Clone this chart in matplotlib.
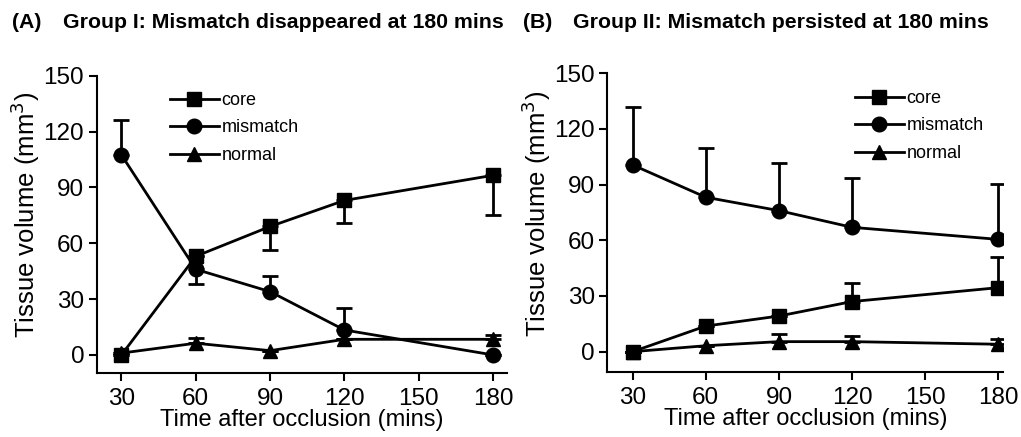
import matplotlib
matplotlib.use("Agg")
import matplotlib.pyplot as plt
import numpy as np

plt.rcParams['font.family'] = ['Liberation Sans', 'DejaVu Sans']

times = [30, 60, 90, 120, 180]
xticks = [30, 60, 90, 120, 150, 180]
yticks = [0, 30, 60, 90, 120, 150]

# Group I
a_core = [0, 53, 69, 83, 96.5]
a_core_lo = [0, 0, 12.5, 12.2, 21.2]
a_core_hi = [0, 0, 0, 0, 0]
a_mis = [107.4, 46, 34, 13.4, 0]
a_mis_lo = [0, 8.1, 0, 0, 0]
a_mis_hi = [18.8, 0, 8.6, 11.6, 0]
a_norm = [1, 6.3, 2.3, 8.4, 8.4]
a_norm_lo = [0, 0, 0, 0, 0]
a_norm_hi = [0, 3.0, 0, 0, 2.3]

# Group II
b_core = [0, 13.8, 19.2, 27, 34.5]
b_core_lo = [0, 0, 0, 0, 0]
b_core_hi = [0, 0, 0, 10.2, 16.7]
b_mis = [100.6, 83.2, 76, 67, 60.5]
b_mis_lo = [0, 0, 0, 0, 0]
b_mis_hi = [31.4, 26.8, 25.5, 26.4, 29.9]
b_norm = [0, 3.2, 5.4, 5.4, 4.0]
b_norm_lo = [0, 0, 0, 0, 0]
b_norm_hi = [0, 0, 4.1, 3.0, 2.6]

W, H = 1021, 437
fig = plt.figure(figsize=(W / 100, H / 100), dpi=100)


def px_axes(l, r, t, b):
    return fig.add_axes([l / W, 1 - b / H, (r - l) / W, (b - t) / H])


axA = px_axes(96.7, 506.7, 75.7, 373)
axB = px_axes(607.3, 1003.3, 73.3, 371.7)

lw = 2.0
ms = 10.5
series_style = [('s', 'core'), ('o', 'mismatch'), ('^', 'normal')]


def draw(ax, data, xlim, ylim):
    handles = []
    for (vals, lo, hi), (mk, lab) in zip(data, series_style):
        ax.errorbar(times, vals, yerr=[lo, hi], fmt='none', ecolor='black',
                    elinewidth=lw, capsize=6, capthick=lw, zorder=2)
        h, = ax.plot(times, vals, color='black', lw=lw, marker=mk,
                     markersize=ms, markerfacecolor='black',
                     markeredgecolor='black', label=lab, zorder=3)
        handles.append(h)
    ax.set_xlim(*xlim)
    ax.set_ylim(*ylim)
    ax.set_xticks(xticks)
    ax.set_yticks(yticks)
    for s in ['top', 'right']:
        ax.spines[s].set_visible(False)
    for s in ['left', 'bottom']:
        ax.spines[s].set_linewidth(1.5)
    ax.spines['left'].set_bounds(ylim[0], 150)
    ax.tick_params(axis='both', labelsize=17.5, width=1.5, length=6, pad=3)
    ax.tick_params(axis='x', pad=5)
    ax.set_xlabel('Time after occlusion (mins)', fontsize=17, labelpad=-1)
    ax.set_ylabel('Tissue volume (mm$^3$)', fontsize=18.5, labelpad=1)
    ax.yaxis.label.set_y(0.53)
    return handles


hA = draw(axA, [(a_core, a_core_lo, a_core_hi), (a_mis, a_mis_lo, a_mis_hi),
                (a_norm, a_norm_lo, a_norm_hi)], (20, 185.5), (-9.7, 150))
hB = draw(axB, [(b_core, b_core_lo, b_core_hi), (b_mis, b_mis_lo, b_mis_hi),
                (b_norm, b_norm_lo, b_norm_hi)], (19.6, 182), (-10.8, 150))

for ax, h, (x0, y0) in [(axA, hA, (170, 92)), (axB, hB, (855, 90))]:
    ax.legend(handles=h, loc='upper left',
              bbox_to_anchor=(x0 / W, 1 - y0 / H), bbox_transform=fig.transFigure,
              frameon=False, fontsize=13, handlelength=2.7, handletextpad=0.15,
              labelspacing=0.58, borderpad=0, borderaxespad=0, markerscale=1.0)

tfs = 15.3
fig.text(12 / W, 1 - 23 / H, '(A)', fontsize=tfs, fontweight='bold', va='center', ha='left')
fig.text(63 / W, 1 - 23 / H, 'Group I: Mismatch disappeared at 180 mins', fontsize=tfs,
         fontweight='bold', va='center', ha='left')
fig.text(523 / W, 1 - 23 / H, '(B)', fontsize=tfs, fontweight='bold', va='center', ha='left')
fig.text(573 / W, 1 - 23 / H, 'Group II: Mismatch persisted at 180 mins', fontsize=tfs,
         fontweight='bold', va='center', ha='left')

fig.savefig('out.png', dpi=100)
